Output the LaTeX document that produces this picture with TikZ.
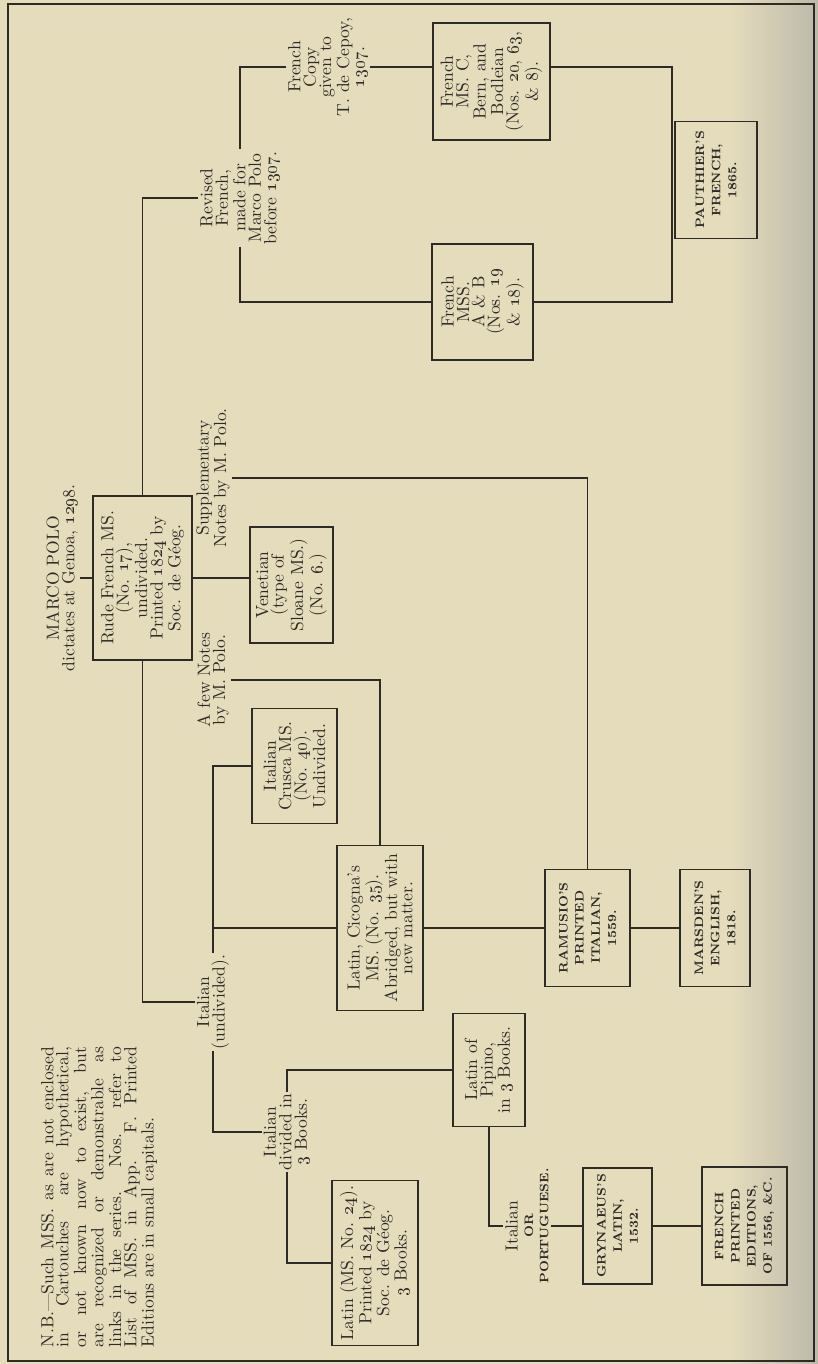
\documentclass[tikz,border=0pt]{standalone}
\usepackage{tikz}
\definecolor{paper}{RGB}{229,220,188}
\definecolor{gutter}{RGB}{188,185,170}
\definecolor{ink}{RGB}{46,42,38}
\newcommand\os[1]{\oldstylenums{#1}}
\newcommand\capsfont{\fontsize{7}{9.2}\selectfont\bfseries}

\begin{document}
\begin{tikzpicture}[x=0.2mm, y=-0.2mm,
  every node/.style={rotate=90, align=center, inner sep=1pt, text=ink,
    font=\fontsize{10}{8.8}\selectfont},
  ms/.style 2 args={draw=ink, line width=0.8pt, inner sep=2pt,
    minimum width=#1*0.2mm, minimum height=#2*0.2mm},
  ed/.style 2 args={ms={#1}{#2}, font=\capsfont},
  link/.style={draw=ink, line width=0.6pt}]
  \useasboundingbox (0,0) rectangle (818,1364);
  \fill[paper] (0,0) rectangle (818,1364);
  \shade[left color=paper, right color=gutter] (730,0) rectangle (818,1364);
  \draw[ink, line width=0.7pt] (8,4) rectangle (814,1361);

  \node[text width=60mm, align=justify, font=\fontsize{10}{8.6}\selectfont] (nb) at (99,1197)
    {\hangindent=0.5em\hangafter=1 N.B.—Such MSS. as are not enclosed\linebreak
     in Cartouches are hypothetical,\linebreak or not known now to exist, but\linebreak
     are recognized or demonstrable as\linebreak links in the series. Nos. refer to\linebreak
     List of MSS. in App. F. Printed\linebreak Editions are in small capitals.};

  \node (marco) at (62,578) {MARCO POLO\\dictates at Genoa, \os{1298}.};
  \node[ms={164}{99}] (rude) at (142.5,578)
    {Rude French MS.\\(No. \os{17}),\\undivided.\\Printed \os{1824} by\\Soc. de Géog.};
  \node (supp) at (213,478) {Supplementary\\Notes by M. Polo.};
  \node (fewnotes) at (213,680) {A few Notes\\by M. Polo.};
  \node (italund) at (213,1002) {Italian\\(undivided).};
  \node (revised) at (240,198) {Revised\\French,\\made for\\Marco Polo\\before \os{1307}.};
  \node (frcopy) at (328,67) {French\\Copy\\given to\\T. de Cepoy,\\\os{1307}.};
  \node[ms={116}{83}] (venetian) at (291.5,585) {Venetian\\(type of\\Sloane MS.)\\(No. \os{6}.)};
  \node[ms={115}{85}] (crusca) at (294.5,766) {Italian\\Crusca MS.\\(No. \os{40}).\\Undivided.};
  \node[ms={165}{86}] (cicogna) at (380,928)
    {Latin, Cicogna’s\\MS. (No. \os{35}).\\Abridged, but with\\new matter.};
  \node (italdiv) at (287,1132) {Italian\\divided in\\\os{3} Books.};
  \node[ms={165}{86}] (latin24) at (375,1263)
    {Latin (MS. No. \os{24}).\\Printed \os{1824} by\\Soc. de Géog.\\\os{3} Books.};
  \node[ms={113}{72}] (pipino) at (489,1070) {Latin of\\Pipino,\\in \os{3} Books.};
  \node (italport) at (527,1226) {Italian\\{\capsfont OR}\\{\capsfont PORTUGUESE.}};
  \node[ed={117}{85}] (ramusio) at (587.5,928) {RAMUSIO’S\\PRINTED\\ITALIAN,\\1559.};
  \node[ed={117}{70}] (marsden) at (715,928) {MARSDEN’S\\ENGLISH,\\1818.};
  \node[ed={116}{69}] (grynaeus) at (617.5,1226) {GRYNAEUS’S\\LATIN,\\1532.};
  \node[ed={118}{85}] (frprinted) at (744.5,1226) {FRENCH\\PRINTED\\EDITIONS,\\OF 1556, \&C.};
  \node[ms={116}{101}] (frenchab) at (482.5,302) {French\\MSS.\\A \& B\\(Nos. \os{19}\\\& \os{18}).};
  \node[ms={117}{117}] (frenchc) at (491.5,81.5)
    {French\\MS. C,\\Bern, and\\Bodleian\\(Nos. \os{20}, \os{63},\\\& \os{8}).};
  \node[ed={117}{82}] (pauthier) at (716,180) {PAUTHIER’S\\FRENCH,\\1865.};

  \coordinate (fjoin) at (672,67);
  \draw[link] (marco.south) -- (rude.north);
  \draw[link] (rude.east) |- (revised.north);
  \draw[link] (revised.east) |- (frcopy.north);
  \draw[link] (revised.west) |- (frenchab.north);
  \draw[link] (frcopy.south) -- (frcopy.south -| frenchc.north);
  \draw[link] (frenchc.south |- fjoin) -- (fjoin) |- (frenchab.south);
  \draw[link] (rude.south) -- (rude.south -| venetian.north);
  \draw[link] (supp.south) -| (ramusio.east);
  \draw[link] (fewnotes.south) -| (cicogna.east);
  \draw[link] (rude.west) |- (italund.north);
  \draw[link] (italund.east) |- (crusca.north);
  \draw[link] (italund.east |- cicogna.north) -- (cicogna.north);
  \draw[link] (italund.west) |- (italdiv.north);
  \draw[link] (italdiv.east) |- (pipino.north);
  \draw[link] (italdiv.west) |- (latin24.north);
  \draw[link] (cicogna.south) -- (ramusio.north);
  \draw[link] (ramusio.south) -- (marsden.north);
  \draw[link] (pipino.west) |- (italport.north);
  \draw[link] (italport.south) -- (grynaeus.north);
  \draw[link] (grynaeus.south) -- (frprinted.north);
\end{tikzpicture}
\end{document}
